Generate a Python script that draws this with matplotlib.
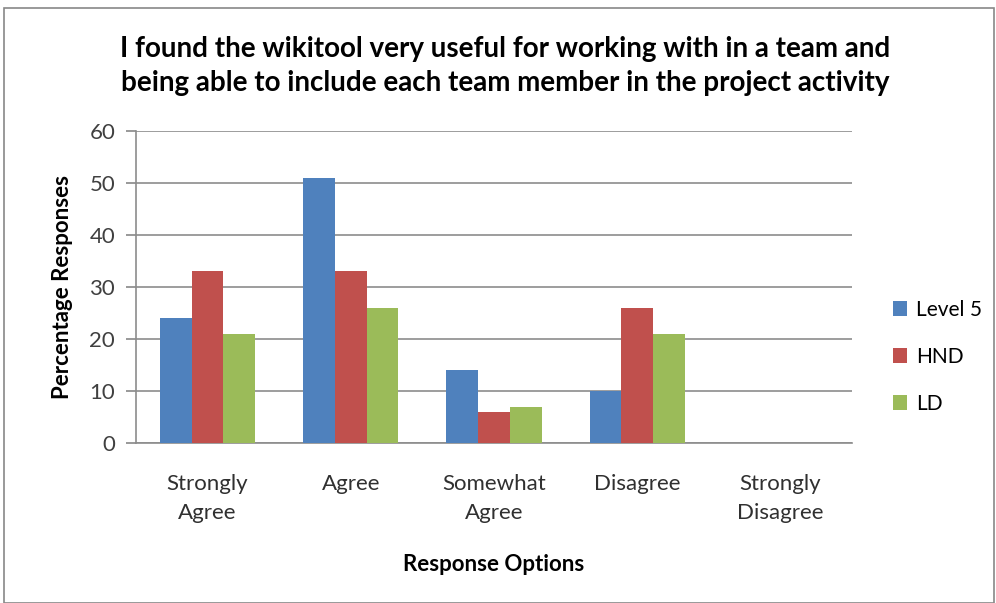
import matplotlib
matplotlib.use("Agg")
import matplotlib.pyplot as plt
import numpy as np

categories = ["Strongly\nAgree", "Agree", "Somewhat\nAgree", "Disagree", "Strongly\nDisagree"]
series_names = ["Level 5", "HND", "LD"]
level5 = [24, 51, 14, 10, 0]
hnd = [33, 33, 6, 26, 0]
ld = [21, 26, 7, 21, 0]
colors = ["#4F81BD", "#C0504D", "#9BBB59"]
yticks = [0, 10, 20, 30, 40, 50, 60]

plt.rcParams['font.family'] = ['Lato', 'DejaVu Sans']

fig = plt.figure(figsize=(9.96, 6.03), dpi=100)
ax = fig.add_axes([136/996, 1-443/603, (852-136)/996, (443-131)/603])

x = np.arange(len(categories))
w = 0.222
for i, (vals, name) in enumerate(zip([level5, hnd, ld], series_names)):
    ax.bar(x + (i-1)*w, vals, width=w, color=colors[i], label=name, zorder=3)

ax.set_xlim(-0.5, len(categories)-0.5)
ax.set_ylim(0, 60)
ax.set_yticks(yticks)
ax.set_yticklabels([str(t) for t in yticks], fontsize=16, color="#404040")
ax.set_xticks(x)
ax.set_xticklabels(categories, fontsize=16, color="#303030", linespacing=1.6)
ax.tick_params(axis='x', length=0, pad=22)
ax.tick_params(axis='y', length=7, color="#888888", width=1.2, pad=8)
ax.grid(axis='y', color="#8c8c8c", linewidth=1.2, zorder=0)
for s in ["top", "right"]:
    ax.spines[s].set_visible(False)
ax.spines["left"].set_color("#8c8c8c")
ax.spines["left"].set_linewidth(1.2)
ax.spines["bottom"].set_color("#8c8c8c")
ax.spines["bottom"].set_linewidth(1.2)

ax.set_ylabel("Percentage Responses", fontsize=16, fontweight="bold", labelpad=12)
ax.set_xlabel("Response Options", fontsize=16, fontweight="bold", labelpad=22)

fig.text(505/996, 1-66/603, "I found the wikitool very useful for working with in a team and\nbeing able to include each team member in the project activity",
         ha="center", va="center", fontsize=20, fontweight="bold", linespacing=1.4)

leg = ax.legend(loc="center left", bbox_to_anchor=((874-136)/716, (443-357)/312), frameon=False,
                fontsize=15, handlelength=0.7, handleheight=0.7, labelspacing=1.3, handletextpad=0.4)

# outer frame
fig.patches.append(plt.Rectangle((4/996, 0), 990/996, 1-8/603, transform=fig.transFigure,
                                 fill=False, edgecolor="#888888", linewidth=1.2))

fig.savefig("out.png", dpi=100)
